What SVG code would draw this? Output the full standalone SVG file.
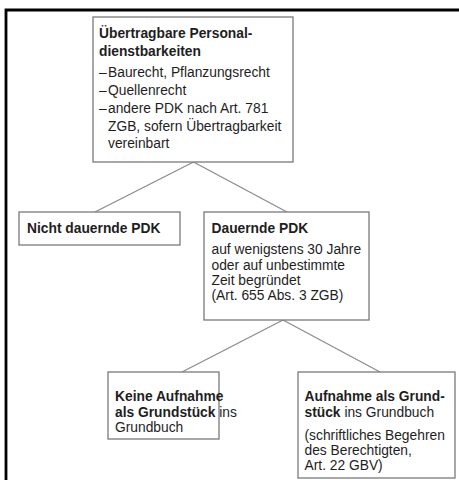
<svg xmlns="http://www.w3.org/2000/svg" width="459" height="480" viewBox="0 0 459 480">
  <style>
    .box { fill: #ffffff; stroke: #7a7a7a; stroke-width: 1.3; }
    .edge { stroke: #8a8a8a; stroke-width: 1.2; fill: none; }
    text { font-family: "Liberation Sans", Arial, sans-serif; font-size: 13.8px; fill: #1e1e1e; }
    .b { font-weight: bold; }
  </style>
  <rect width="459" height="480" fill="#ffffff"/>
  <!-- outer frame (open to the right and bottom) -->
  <path d="M6,482 V10 H462" fill="none" stroke="#000000" stroke-width="2.8"/>

  <g id="connectors">
    <line class="edge" x1="193.5" y1="162" x2="95" y2="212"/>
    <line class="edge" x1="193.5" y1="162" x2="287" y2="212"/>
    <line class="edge" x1="283" y1="320" x2="182" y2="372"/>
    <line class="edge" x1="283" y1="320" x2="380" y2="372"/>
  </g>

  <g id="node-uebertragbar">
    <rect class="box" x="93" y="17" width="200" height="145"/>
    <text class="b" x="99" y="37.7" font-size="14px">Übertragbare Personal-</text>
    <text class="b" x="99" y="56" font-size="14px">dienstbarkeiten</text>
    <text x="99" y="77.3">–</text><text x="108" y="77.3">Baurecht, Pflanzungsrecht</text>
    <text x="99" y="95">–</text><text x="108" y="95">Quellenrecht</text>
    <text x="99" y="112.7">–</text><text x="108" y="112.7">andere PDK nach Art. 781</text>
    <text x="108" y="130.7">ZGB, sofern Übertragbarkeit</text>
    <text x="108" y="148.3">vereinbart</text>
  </g>

  <g id="node-nicht-dauernd">
    <rect class="box" x="19" y="212" width="161" height="33"/>
    <text class="b" x="27" y="232.7">Nicht dauernde PDK</text>
  </g>

  <g id="node-dauernd">
    <rect class="box" x="204" y="212" width="165" height="108"/>
    <text class="b" x="211.5" y="232.7">Dauernde PDK</text>
    <text x="211.5" y="254.3">auf wenigstens 30 Jahre</text>
    <text x="211.5" y="269.5">oder auf unbestimmte</text>
    <text x="211.5" y="284.7">Zeit begründet</text>
    <text x="211.5" y="300">(Art. 655 Abs. 3 ZGB)</text>
  </g>

  <g id="node-keine-aufnahme">
    <rect class="box" x="108" y="372" width="111" height="67"/>
    <text class="b" x="115" y="401">Keine Aufnahme</text>
    <text x="115" y="416.7"><tspan class="b">als Grundstück</tspan> ins</text>
    <text x="115" y="432.3">Grundbuch</text>
  </g>

  <g id="node-aufnahme">
    <rect class="box" x="298" y="372" width="157" height="106"/>
    <text class="b" x="304.5" y="401">Aufnahme als Grund-</text>
    <text x="304.5" y="416.7"><tspan class="b">stück</tspan> ins Grundbuch</text>
    <text x="304.5" y="440">(schriftliches Begehren</text>
    <text x="304.5" y="455">des Berechtigten,</text>
    <text x="304.5" y="470">Art. 22 GBV)</text>
  </g>
</svg>
